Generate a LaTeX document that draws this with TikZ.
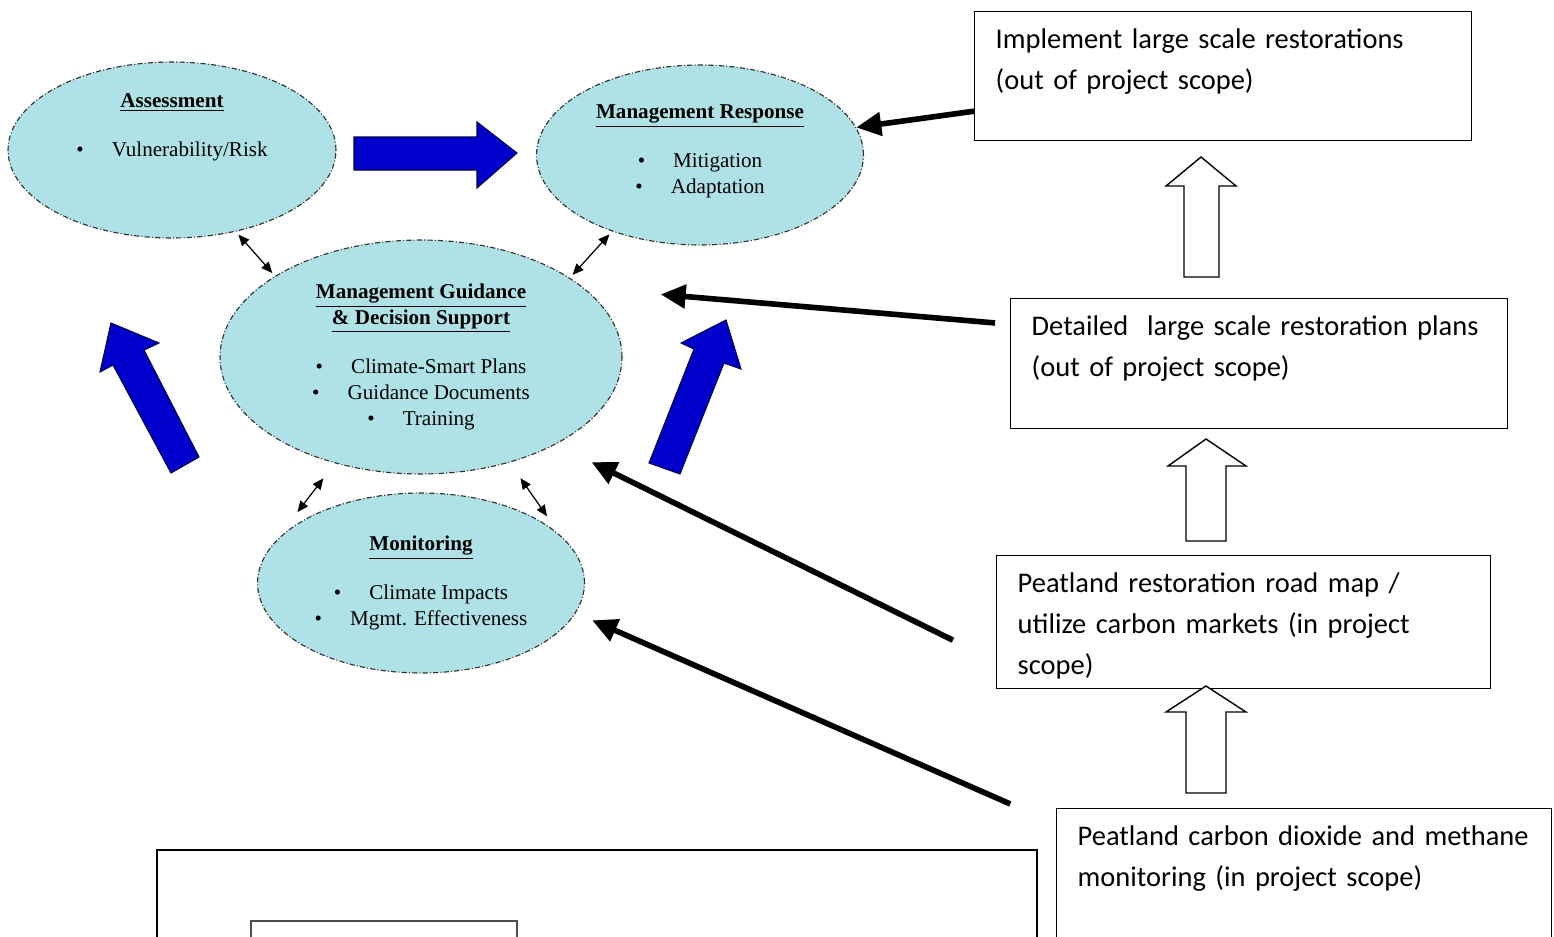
\documentclass[tikz,border=0pt]{standalone}
\usepackage{fontspec}
\setmainfont{Carlito}
\newfontfamily\tnrfont{Liberation Serif}
\usetikzlibrary{arrows.meta,shapes.geometric}

\definecolor{ellfill}{RGB}{175,226,230}
\definecolor{ellline}{RGB}{50,50,50}
\definecolor{arrblue}{RGB}{0,0,204}
\definecolor{arrline}{RGB}{0,0,70}

\begin{document}
\begin{tikzpicture}[x=0.02cm,y=-0.02cm,
  stage/.style={ellipse, draw=ellline, fill=ellfill, line width=0.65pt,
    dash pattern=on 3pt off 1.2pt on 0.6pt off 1.2pt, inner sep=0pt, align=center,
    font=\tnrfont\fontsize{12}{14.7}\selectfont},
  scopebox/.style={draw, line width=0.8pt, anchor=north west, inner xsep=0.42cm,
    inner ysep=0pt, text height=0.74cm, align=left, font=\fontsize{16.2}{23.2}\selectfont},
  feed/.style={-{Triangle[length=0.5cm,width=0.46cm]}, line width=3.2pt},
  link/.style={{Triangle[length=2.2mm,width=1.9mm]}-{Triangle[length=2.2mm,width=1.9mm]}, line width=0.7pt},
  bluearrow/.style={fill=arrblue, draw=arrline, line width=0.6pt},
  hollow/.style={fill=white, draw=black, line width=0.8pt}]
\useasboundingbox (0,0) rectangle (1554,936);

% adaptation cycle
\node[stage, minimum width=6.56cm, minimum height=3.52cm] (assess) at (172,150)
  {\underline{\textbf{Assessment}}\\[13pt]\textbullet\hspace{16pt}Vulnerability/Risk\\[14pt]\mbox{}};
\node[stage, minimum width=6.54cm, minimum height=3.6cm] (response) at (700,155)
  {\underline{\textbf{Management Response}}\\[13pt]\textbullet\hspace{16pt}Mitigation\\\textbullet\hspace{16pt}Adaptation\\[-8pt]\mbox{}};
\node[stage, minimum width=8.04cm, minimum height=4.68cm] (guidance) at (421,357)
  {\underline{\textbf{Management Guidance}}\\\underline{\textbf{\& Decision Support}}\\[13pt]
   \textbullet\hspace{16pt}Climate-Smart Plans\\\textbullet\hspace{16pt}Guidance Documents\\\textbullet\hspace{16pt}Training};
\node[stage, minimum width=6.54cm, minimum height=3.6cm] (monitor) at (421,583)
  {\underline{\textbf{Monitoring}}\\[13pt]\textbullet\hspace{16pt}Climate Impacts\\\textbullet\hspace{16pt}Mgmt. Effectiveness};

\draw[link, shorten <=0.08cm, shorten >=0.08cm] (assess.-52) -- (guidance.151);
\draw[link, shorten <=0.08cm, shorten >=0.08cm] (response.221.4) -- (guidance.28.5);
\draw[link, shorten <=0.38cm, shorten >=0.79cm] (guidance.231.6) -- (monitor.165);
\draw[link, shorten <=0.38cm, shorten >=0.46cm] (guidance.-50) -- (monitor.19.2);

% blue block arrows
\draw[bluearrow] (354,137) -- (477,137) -- (477,122) -- (517,153) -- (477,188) -- (477,170) -- (354,170) -- cycle;
\draw[bluearrow] (171,473) -- (113,365) -- (100,372) -- (111,323) -- (159,343) -- (144,350) -- (199,457) -- cycle;
\draw[bluearrow] (649,463) -- (694,349) -- (681,343) -- (726,320) -- (741,369) -- (724,363) -- (680,474) -- cycle;

% project steps
\node[scopebox, text width=9.1cm, text depth=1.84cm] (implement) at (974,11)
  {Implement large scale restorations\\(out of project scope)};
\node[scopebox, text width=9.1cm, text depth=1.86cm] (detailed) at (1010,298)
  {Detailed\ \ large scale restoration plans\\(out of project scope)};
\node[scopebox, text width=9.04cm, text depth=1.92cm] (roadmap) at (996,555)
  {Peatland restoration road map /\\utilize carbon markets (in project\\scope)};
\node[scopebox, text width=9.06cm, text depth=3.1cm] (fluxes) at (1056,808)
  {Peatland carbon dioxide and methane\\monitoring (in project scope)};

\draw[hollow] (1184,277) -- (1184,186) -- (1166,186) -- (1201,157) -- (1236,186) -- (1219,186) -- (1219,277) -- cycle;
\draw[hollow] (1186,541) -- (1186,466) -- (1168,466) -- (1206,439) -- (1246,466) -- (1226,466) -- (1226,541) -- cycle;
\draw[hollow] (1186,793) -- (1186,712) -- (1166,712) -- (1206,686) -- (1246,712) -- (1226,712) -- (1226,793) -- cycle;

\draw[feed] (implement.188) -- (response.10.4);
\draw[feed, shorten <=0.3cm, shorten >=1.54cm] (detailed.171.8) -- (guidance.23.6);
\draw[feed, shorten <=0.96cm, shorten >=0.8cm] (roadmap.189.1) -- (guidance.-33.2);
\draw[feed, shorten <=1.0cm, shorten >=0.36cm] (fluxes.162.9) -- (monitor.-11.8);

% empty boxes at the bottom
\draw[line width=0.9pt] (157,850) rectangle (1037,980);
\draw[line width=0.7pt, draw=black!70] (251,921) rectangle (517,980);
\end{tikzpicture}
\end{document}
